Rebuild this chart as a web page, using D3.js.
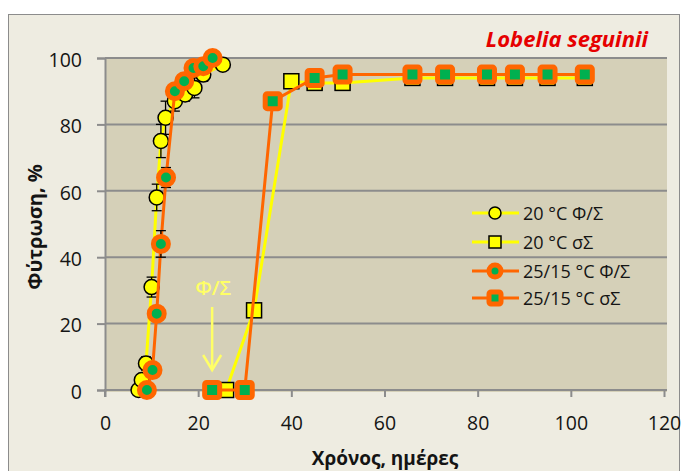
<!DOCTYPE html>
<html><head><meta charset="utf-8">
<script src="https://cdn.jsdelivr.net/npm/d3@7"></script>
<style>body{margin:0;background:#fff}svg{display:block}</style>
</head><body><svg id="c" width="686" height="471"></svg>
<script>
// Data
const xTicks = [0, 20, 40, 60, 80, 100, 120];
const yTicks = [0, 20, 40, 60, 80, 100];
const seriesNames = ["20 °C Φ/Σ", "20 °C σΣ", "25/15 °C Φ/Σ", "25/15 °C σΣ"];
const days20FS = [7.2, 7.9, 8.8, 10, 11.1, 12, 13, 15, 17.2, 19.2, 21.1, 25.3];
const germ20FS = [0, 3, 8, 31, 58, 75, 82, 87, 89, 91, 95, 98];
const err20FS = [0, 1, 2, 3, 4, 5, 5, 3, 2, 3, 2, 1];
const days20S = [26, 32, 40, 45, 51, 66, 73, 82, 88, 95, 103];
const germ20S = [0, 24, 93, 92.5, 92.5, 94, 94, 94, 94, 94, 94];
const days25FS = [9, 10.2, 11.1, 12, 13.1, 15, 17, 19, 21.1, 23.1];
const germ25FS = [0, 6, 23, 44, 64, 90, 93, 97, 97.5, 100];
const err25FS = [0, 1, 2, 4, 3, 1, 1, 1, 1, 0];
const days25S = [23, 30, 36, 45, 51, 66, 73, 82, 88, 95, 103];
const germ25S = [0, 0, 87, 94, 95, 95, 95, 95, 95, 95, 95];
const title = "Lobelia seguinii";
const xTitle = "Χρόνος, ημέρες";
const yTitle = "Φύτρωση, %";
const annot = "Φ/Σ";
const annotDay = 23;

const svg = d3.select("#c");
const YEL = "#FFFF00", ORA = "#FF6600", GRN = "#00B050";
const font = "'Open Sans', 'Noto Sans', sans-serif";
const TXT = "#141414";

svg.append("rect").attr("width", 686).attr("height", 471).attr("fill", "#fff");
svg.append("rect").attr("x", 8.5).attr("y", 14.5).attr("width", 671).attr("height", 470)
  .attr("fill", "#EEECE1").attr("stroke", "#8C8C8C").attr("stroke-width", 1);

const x = d3.scaleLinear().domain([0, 120]).range([105, 664]);
const y = d3.scaleLinear().domain([0, 100]).range([390, 58]);

// plot area
svg.append("rect").attr("x", x(0)).attr("y", y(100)).attr("width", 667 - x(0)).attr("height", 392 - y(100))
  .attr("fill", "#D5D0B8");

// gridlines
svg.append("g").selectAll("line").data(yTicks.filter(d => d > 0)).join("line")
  .attr("x1", x(0)).attr("x2", 667).attr("y1", d => y(d)).attr("y2", d => y(d))
  .attr("stroke", "#8C8C8C").attr("stroke-width", 2);

// axes
const xAxis = svg.append("g").attr("transform", `translate(0,${y(0)})`)
  .call(d3.axisBottom(x).tickValues(xTicks).tickSize(7).tickPadding(19));
const yAxis = svg.append("g").attr("transform", `translate(${x(0)},0)`)
  .call(d3.axisLeft(y).tickValues(yTicks).tickSize(8).tickPadding(15));
[xAxis, yAxis].forEach(a => {
  a.select(".domain").attr("stroke", "#8C8C8C").attr("stroke-width", 2);
  a.selectAll(".tick line").attr("stroke", "#8C8C8C").attr("stroke-width", 2);
  a.selectAll("text").attr("font-family", font).attr("font-size", 19.5).attr("fill", TXT);
});
xAxis.select(".domain").attr("d", `M${x(0)},7V0H667`);
yAxis.selectAll("text").attr("dy", "0.42em");

// axis titles
svg.append("text").attr("x", 385).attr("y", 465).attr("text-anchor", "middle")
  .attr("font-family", font).attr("font-weight", "bold").attr("font-size", 19).attr("fill", TXT).text(xTitle);
svg.append("text").attr("transform", "translate(42,227) rotate(-90)").attr("text-anchor", "middle")
  .attr("font-family", font).attr("font-weight", "bold").attr("font-size", 20).attr("fill", TXT).text(yTitle);

// title
svg.append("text").attr("x", 648).attr("y", 47).attr("text-anchor", "end")
  .attr("font-family", font).attr("font-weight", "bold").attr("font-style", "italic")
  .attr("font-size", 22).attr("fill", "#E60000").text(title);

const line = d3.line().x(d => x(d[0])).y(d => y(d[1]));
const zip = (a, b) => a.map((v, i) => [v, b[i]]);
const s1 = zip(days20FS, germ20FS), s2 = zip(days20S, germ20S), s3 = zip(days25FS, germ25FS), s4 = zip(days25S, germ25S);

function errBars(data, errs) {
  const g = svg.append("g").attr("stroke", "#000").attr("stroke-width", 1.3);
  data.forEach((d, i) => {
    const e = errs[i]; if (!e) return;
    g.append("line").attr("x1", x(d[0])).attr("x2", x(d[0])).attr("y1", y(d[1] - e)).attr("y2", y(d[1] + e));
    [d[1] - e, d[1] + e].forEach(v => g.append("line").attr("x1", x(d[0]) - 5).attr("x2", x(d[0]) + 5).attr("y1", y(v)).attr("y2", y(v)));
  });
}

// yellow series
svg.append("path").datum(s2).attr("d", line).attr("fill", "none").attr("stroke", YEL).attr("stroke-width", 3);
svg.append("path").datum(s1).attr("d", line).attr("fill", "none").attr("stroke", YEL).attr("stroke-width", 3);
errBars(s1, err20FS);
svg.append("g").selectAll("rect").data(s2).join("rect")
  .attr("x", d => x(d[0]) - 7.5).attr("y", d => y(d[1]) - 7.5).attr("width", 15).attr("height", 15)
  .attr("fill", YEL).attr("stroke", "#000").attr("stroke-width", 1.5);
svg.append("g").selectAll("circle").data(s1).join("circle")
  .attr("cx", d => x(d[0])).attr("cy", d => y(d[1])).attr("r", 7.5)
  .attr("fill", YEL).attr("stroke", "#000").attr("stroke-width", 1.5);

// orange series
svg.append("path").datum(s4).attr("d", line).attr("fill", "none").attr("stroke", ORA).attr("stroke-width", 3);
svg.append("path").datum(s3).attr("d", line).attr("fill", "none").attr("stroke", ORA).attr("stroke-width", 3);
errBars(s3, err25FS);
svg.append("g").selectAll("rect").data(s4).join("rect")
  .attr("x", d => x(d[0]) - 7.5).attr("y", d => y(d[1]) - 7.5).attr("width", 15).attr("height", 15).attr("rx", 2)
  .attr("fill", GRN).attr("stroke", ORA).attr("stroke-width", 5);
svg.append("g").selectAll("circle").data(s3).join("circle")
  .attr("cx", d => x(d[0])).attr("cy", d => y(d[1])).attr("r", 7.5)
  .attr("fill", GRN).attr("stroke", ORA).attr("stroke-width", 5);

// annotation
const ax = x(annotDay);
svg.append("text").attr("x", ax + 1).attr("y", 295).attr("text-anchor", "middle")
  .attr("font-family", font).attr("font-weight", 600).attr("font-size", 20).attr("fill", "#FFFF66").text(annot);
svg.append("line").attr("x1", ax).attr("x2", ax).attr("y1", 307).attr("y2", 369)
  .attr("stroke", "#FFFF66").attr("stroke-width", 2.5);
svg.append("path").attr("d", `M${ax - 9},355 L${ax},370 L${ax + 9},355`)
  .attr("fill", "none").attr("stroke", "#FFFF66").attr("stroke-width", 2.5);

// legend
const leg = svg.append("g");
const ly = [213, 242, 271, 298];
seriesNames.forEach((name, i) => {
  const g = leg.append("g").attr("transform", `translate(0,${ly[i]})`);
  const col = i < 2 ? YEL : ORA;
  g.append("line").attr("x1", 472).attr("x2", 519).attr("stroke", col).attr("stroke-width", 3);
  if (i === 0) g.append("circle").attr("cx", 495).attr("r", 6).attr("fill", YEL).attr("stroke", "#000").attr("stroke-width", 1.5);
  if (i === 1) g.append("rect").attr("x", 489).attr("y", -6).attr("width", 12).attr("height", 12).attr("fill", YEL).attr("stroke", "#000").attr("stroke-width", 1.5);
  if (i === 2) g.append("circle").attr("cx", 495).attr("r", 6).attr("fill", GRN).attr("stroke", ORA).attr("stroke-width", 5);
  if (i === 3) g.append("rect").attr("x", 489).attr("y", -6).attr("width", 12).attr("height", 12).attr("rx", 2).attr("fill", GRN).attr("stroke", ORA).attr("stroke-width", 5);
  g.append("text").attr("x", 523).attr("y", 6.5).attr("font-family", font).attr("font-size", 18).attr("fill", TXT).text(name);
});
</script></body></html>
